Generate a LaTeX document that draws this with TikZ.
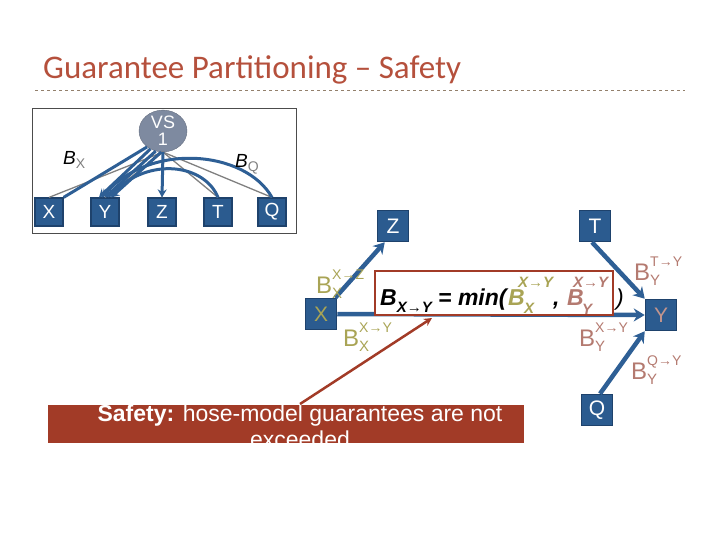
\documentclass[tikz,border=0pt]{standalone}
\usepackage{fontspec}
\setmainfont{Liberation Sans}
\newfontfamily\titlefont{Carlito}
\usetikzlibrary{arrows.meta,shapes.geometric}
\definecolor{nodeblue}{HTML}{2B5B8F}
\definecolor{nodeborder}{HTML}{1E426C}
\definecolor{edgeblue}{HTML}{2E5F95}
\definecolor{olivec}{HTML}{A9A455}
\definecolor{rosec}{HTML}{B47A70}
\definecolor{brick}{HTML}{A23B27}
\definecolor{titlered}{HTML}{B5503C}
\definecolor{vsgrey}{HTML}{7E8AA0}
\newcommand\fsz[1]{\fontsize{#1}{#1}\selectfont}
\newcommand\Blab[2]{B\rlap{\raisebox{14pt}{\fsz{14}#1}}\raisebox{-5pt}{\fsz{15}#2}}
\begin{document}
\begin{tikzpicture}[x=1pt,y=-1pt,
  bx/.style={draw=nodeborder,fill=nodeblue,line width=1.5pt,minimum size=31pt,inner sep=0pt,text=white,font=\fsz{21}},
  sbx/.style={draw=nodeborder,fill=nodeblue,line width=1.2pt,minimum size=28pt,inner sep=0pt,text=white,font=\fsz{19}},
  edge/.style={draw=edgeblue,line width=4.5pt,-{Stealth[length=11pt,width=13pt]}},
  iedge/.style={draw=edgeblue,line width=3pt,-{Stealth[length=8pt,width=9pt]}},
  gedge/.style={draw=gray,line width=1.3pt},
  lab/.style={anchor=base west,font=\fsz{24},inner sep=0pt},
  fsup/.style={anchor=base west,inner sep=0pt,font=\fsz{15}\bfseries\itshape},
  saft/.style={anchor=base,inner sep=0pt,text=white,font=\fsz{23}}]
\useasboundingbox (0,0) rectangle (720,540);
% title
\node[anchor=base west,inner sep=0pt,font=\titlefont\fsz{33},text=titlered] (title) at (43,79) {Guarantee Partitioning – Safety};
\draw[dashed,draw=gray!70!brown,line width=0.8pt] (35,90) coordinate (dl) -- (685,90) coordinate (dr);
% inset
\draw[draw=black!70,line width=0.8pt] (32,108) rectangle (296,233);
\node[ellipse,draw=vsgrey!80!black,fill=vsgrey,minimum width=48pt,minimum height=32pt,inner sep=0pt,text=white,font=\fsz{18},align=center] (vs) at (163,131) {VS\\[-1pt]1};
\node[sbx] (iX) at (49,212) {X};
\node[sbx] (iY) at (105,212) {Y};
\node[sbx] (iZ) at (162,212) {Z};
\node[sbx] (iT) at (218,212) {T};
\node[sbx] (iQ) at (272,212) {Q};
\draw[gedge] (vs.south) -- (iX.north);
\draw[gedge] (vs.south) -- (iY.north);
\draw[gedge] (vs.south) -- (iZ.north);
\draw[gedge] (vs.south) -- (iT.north);
\draw[gedge] (vs.south) -- (iQ.north);
\draw[edgeblue,line width=3pt] (iX.north east) -- (vs.225);
\draw[iedge] (vs.235) -- ([xshift=-6pt]iY.north);
\draw[iedge] (vs.250) -- (iY.north);
\draw[iedge] (vs.265) -- ([xshift=6pt]iY.north);
\draw[iedge] (vs.south) -- (iZ.north);
\draw[iedge] (iT.north) .. controls (205,165) and (150,155) .. ([xshift=3pt]iY.north);
\draw[iedge] (iQ.north) .. controls (245,150) and (150,142) .. ([xshift=-3pt]iY.north);
\node[anchor=base west,inner sep=0pt,font=\fsz{19}\itshape] (bxl) at (63,165) {B\raisebox{-4pt}{\color{gray}\fsz{14}\upshape X}};
\node[anchor=base west,inner sep=0pt,font=\fsz{19}\itshape] (bql) at (235,168) {B\raisebox{-4pt}{\color{gray}\fsz{14}\upshape Q}};
% main diagram
\node[bx,text=olivec] (X) at (321,314) {X};
\node[bx] (Z) at (393,226) {Z};
\node[bx] (T) at (595,226) {T};
\node[bx,text=rosec!80!white] (Y) at (661,315) {Y};
\node[bx] (Q) at (597,410) {Q};
\draw[edge] ([xshift=-2pt]X.north east) -- ([xshift=8pt]Z.south west);
\draw[edge] (X.east) -- (Y.west);
\draw[edge] ([xshift=-3pt]T.south) -- (Y.north west);
\draw[edge] ([xshift=3pt]Q.north) -- (Y.south west);
\node[draw=brick,line width=2pt,fill=white,minimum width=238pt,minimum height=44pt,inner sep=0pt] (fbox) at (494,293) {};
\node[anchor=base west,inner sep=0pt,font=\fsz{23}\bfseries\itshape] (f1) at (380,305) {B\raisebox{-7pt}{\fsz{15}X→Y} = min(};
\node[anchor=base west,inner sep=0pt,font=\fsz{23}\bfseries\itshape,text=olivec] (f2) at (508,305) {B};
\node[fsup,text=olivec] (f2a) at (518,287) {X→Y};
\node[fsup,text=olivec] (f2b) at (524,313) {X};
\node[anchor=base west,inner sep=0pt,font=\fsz{23}\bfseries\itshape] (f3) at (553,305) {,};
\node[anchor=base west,inner sep=0pt,font=\fsz{23}\bfseries\itshape,text=rosec] (f4) at (567,305) {B};
\node[fsup,text=rosec] (f4a) at (573,287) {X→Y};
\node[fsup,text=rosec] (f4b) at (582,314) {Y};
\node[anchor=base west,inner sep=0pt,font=\fsz{23}\itshape] (f5) at (616,305) {)};
\node[lab,text=olivec] (lxz) at (316,293) {\Blab{X→Z}{X}};
\node[lab,text=olivec] (lxy) at (343,346) {\Blab{X→Y}{X}};
\node[lab,text=rosec] (lyx) at (579,346) {\Blab{X→Y}{Y}};
\node[lab,text=rosec] (lty) at (634,280) {\Blab{T→Y}{Y}};
\node[lab,text=rosec] (lqy) at (631,379) {\Blab{Q→Y}{Y}};
% safety box
\fill[brick] (48,405) rectangle (524,443);
\begin{scope}
\clip (48,405) rectangle (524,443);
\node[saft] (saf1) at (300,421) {\textbf{Safety:} hose-model guarantees are not};
\node[saft] (saf2) at (300,447) {exceeded};
\end{scope}
\coordinate (rs) at (300,404);
\draw[brick,line width=2.5pt,-{Stealth[length=8pt,width=8pt]}] (rs) -- (432,318);
\end{tikzpicture}
\end{document}
